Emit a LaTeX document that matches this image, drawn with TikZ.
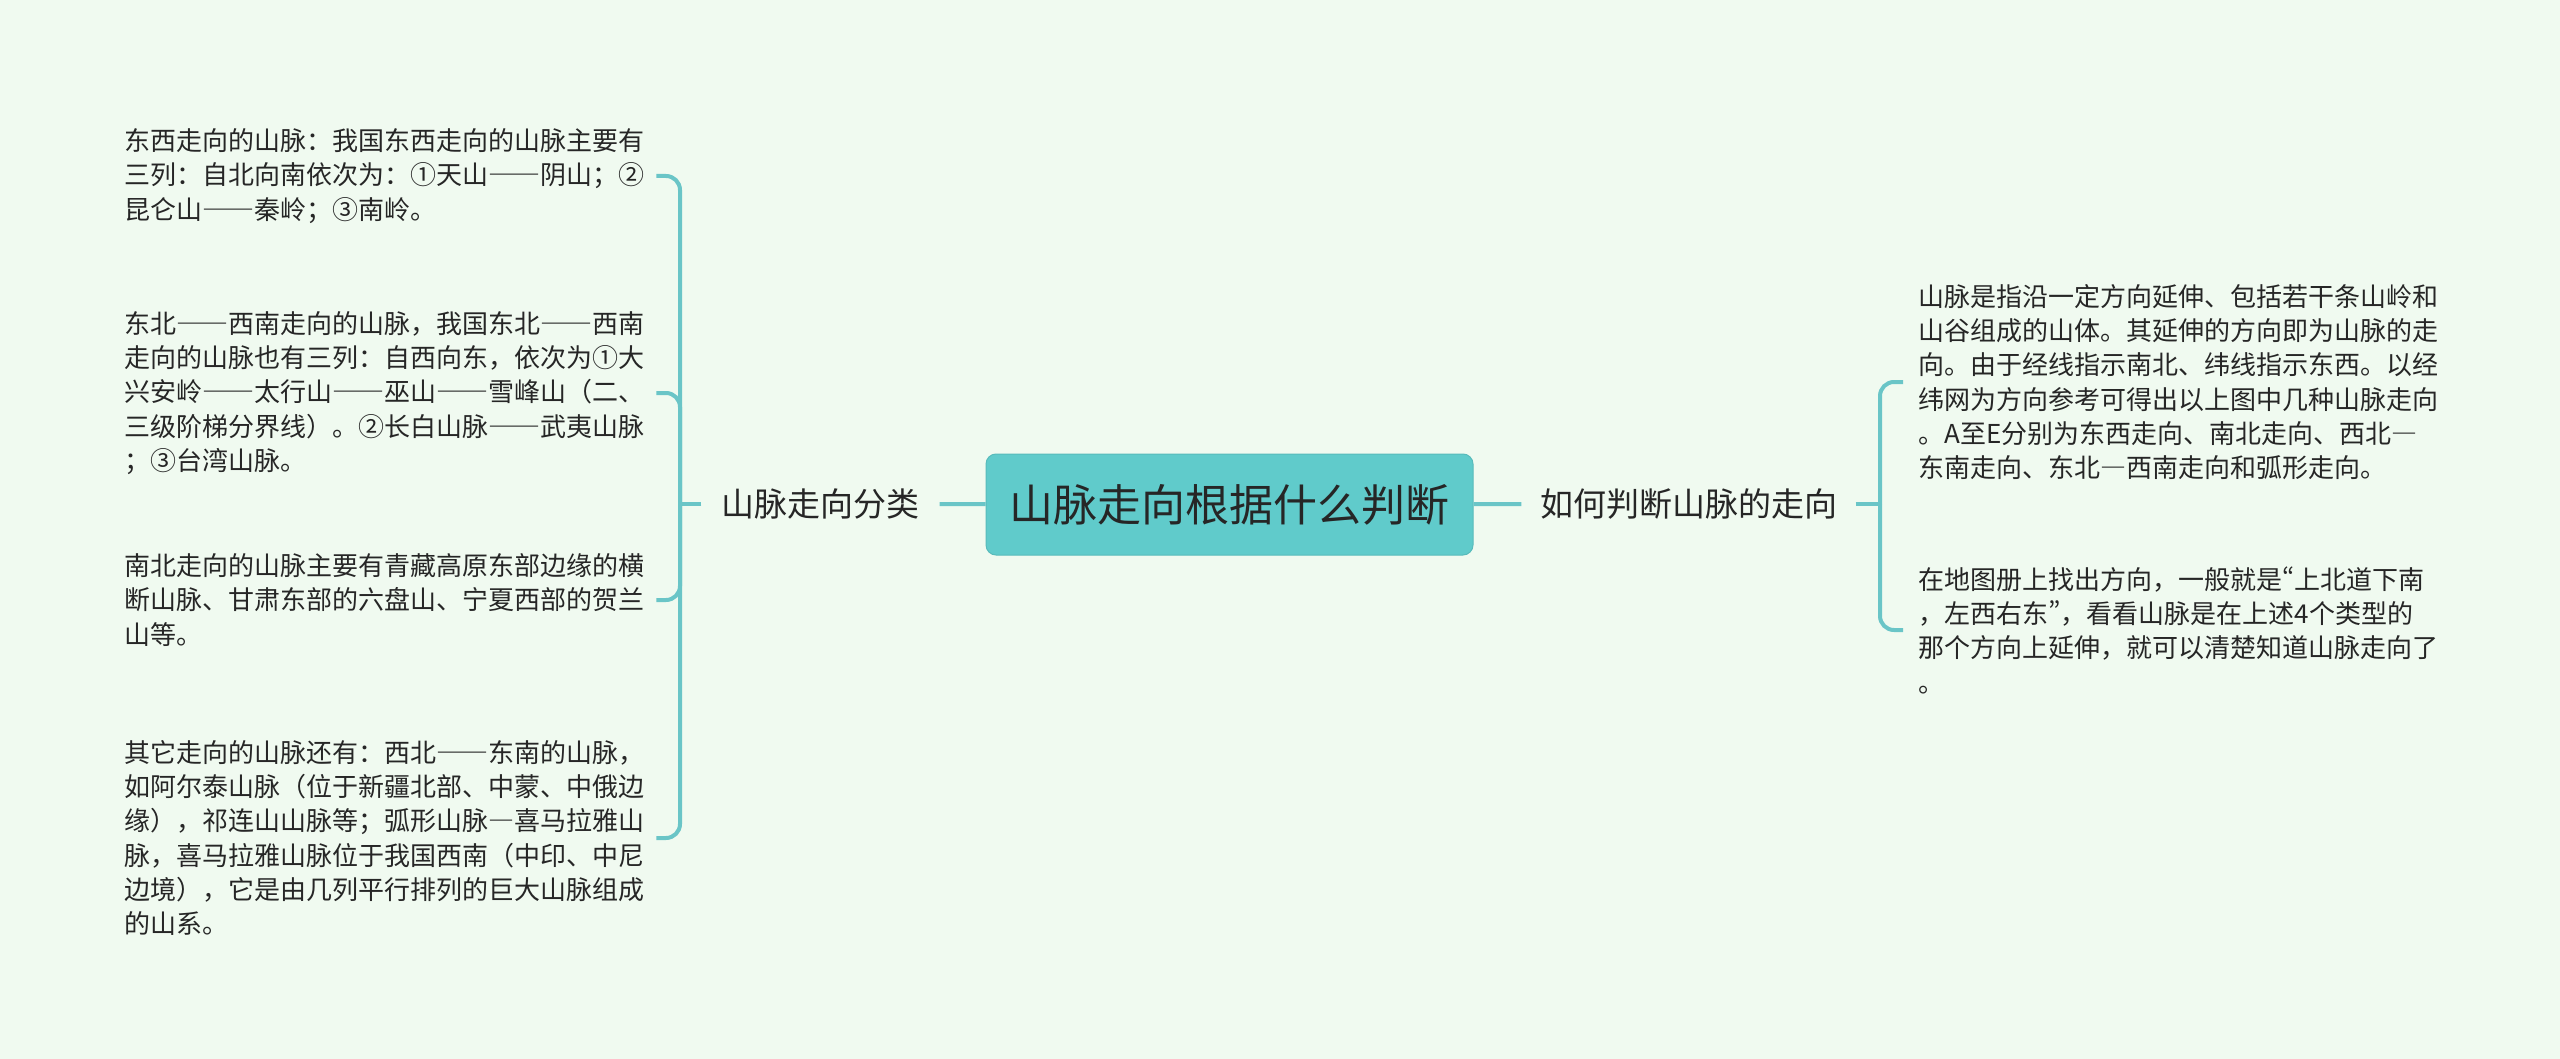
\documentclass[tikz,border=0pt]{standalone}
\usepackage{fontspec}
\setmainfont{Noto Sans CJK SC}
\newfontfamily\fullw{Noto Sans CJK SC}[CharacterWidth=Full]
\newfontfamily\propw{Noto Sans CJK SC}[CharacterWidth=Proportional]
\newcommand{\longdash}{{\fullw ——}}
\newcommand{\onedash}{{\fullw —}}
\definecolor{bgmint}{RGB}{240,250,240}
\definecolor{boxteal}{RGB}{96,203,203}
\definecolor{lineteal}{RGB}{106,197,199}
\definecolor{inkgray}{RGB}{38,38,38}

\begin{document}
\begin{tikzpicture}[x=1pt, y=-1pt,
    leaf/.style = {inner sep=0pt, text width=520pt, align=left, text=inkgray,
                   font=\fontsize{26}{34.3}\selectfont},
    sublabel/.style = {inner ysep=0pt, text=inkgray, font=\fontsize{33}{40}\selectfont},
    branch/.style = {draw=lineteal, line width=4pt, rounded corners=14pt}]

        \fill[bgmint] (0,0) rectangle (2560,1059);
        \useasboundingbox (0,0) rectangle (2560,1059);

        \node[fill=boxteal, draw=boxteal!92!black, line width=1pt, rounded corners=10pt,
              minimum width=487pt, minimum height=101pt, text=inkgray,
              font=\fontsize{44}{52}\selectfont] (title) at (1229.5,504.5) {山脉走向根据什么判断};

        \node[sublabel, inner xsep=20pt] (leftlabel) at (820.5,504) {山脉走向分类};
        \node[sublabel, inner xsep=18.5pt] (rightlabel) at (1688.5,504) {如何判断山脉的走向};

        \coordinate (lj) at (680,504);
        \coordinate (rj) at (1880,504);

        \node[leaf, anchor=west] (east) at (124,176) {东西走向的山脉：我国东西走向的山脉主要有\\
三列：自北向南依次为：①天山\longdash 阴山；②\\
昆仑山\longdash 秦岭；③南岭。};
        \node[leaf, anchor=west] (northeast) at (124,393) {东北\longdash 西南走向的山脉，我国东北\longdash 西南\\
走向的山脉也有三列：自西向东，依次为①大\\
兴安岭\longdash 太行山\longdash 巫山\longdash 雪峰山（二、\\
三级阶梯分界线）。②长白山脉\longdash 武夷山脉\\
；③台湾山脉。};
        \node[leaf, anchor=west] (north) at (124,600) {南北走向的山脉主要有青藏高原东部边缘的横\\
断山脉、甘肃东部的六盘山、宁夏西部的贺兰\\
山等。};
        \node[leaf, anchor=west] (other) at (124,838) {其它走向的山脉还有：西北\longdash 东南的山脉，\\
如阿尔泰山脉（位于新疆北部、中蒙、中俄边\\
缘），祁连山山脉等；弧形山脉\onedash 喜马拉雅山\\
脉，喜马拉雅山脉位于我国西南（中印、中尼\\
边境），它是由几列平行排列的巨大山脉组成\\
的山系。};

        \node[leaf, anchor=west] (meaning) at (1918,382) {山脉是指沿一定方向延伸、包括若干条山岭和\\
山谷组成的山体。其延伸的方向即为山脉的走\\
向。由于经线指示南北、纬线指示东西。以经\\
纬网为方向参考可得出以上图中几种山脉走向\\
。A至E分别为东西走向、南北走向、西北\onedash\\
东南走向、东北\onedash 西南走向和弧形走向。};
        \node[leaf, anchor=west] (method) at (1918,630) {在地图册上找出方向，一般就是{\propw “}上北道下南\\
，左西右东{\propw ”}，看看山脉是在上述4个类型的\\
那个方向上延伸，就可以清楚知道山脉走向了\\
。};

        \draw[branch] (title) -- (leftlabel);
        \draw[branch] (title) -- (rightlabel);
        \draw[branch] (leftlabel) -- (lj);
        \draw[branch] (rightlabel) -- (rj);

        \draw[branch] (lj) |- ([xshift=12pt]east.east);
        \draw[branch] (lj) |- ([xshift=12pt]northeast.east);
        \draw[branch] (lj) |- ([xshift=12pt]north.east);
        \draw[branch] (lj) |- ([xshift=12pt]other.east);

        \draw[branch] (rj) |- ([xshift=-15pt]meaning.west);
        \draw[branch] (rj) |- ([xshift=-15pt]method.west);

    \end{tikzpicture}
\end{document}
